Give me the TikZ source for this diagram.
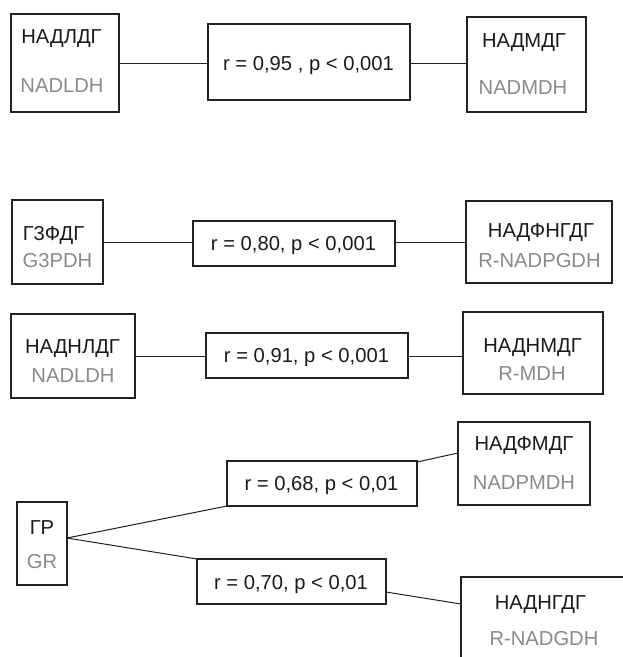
\documentclass[tikz,border=0pt]{standalone}
\usepackage{fontspec}
\setmainfont{Liberation Sans}
\usetikzlibrary{calc}
\definecolor{boxcol}{HTML}{222222}
\definecolor{ink}{HTML}{1A1A1A}
\definecolor{subgray}{HTML}{8A8A8A}
\begin{document}
\begin{tikzpicture}[x=1pt,y=-1pt,
  box/.style={rectangle, draw=boxcol, line width=1.6pt, inner sep=0pt, outer sep=0pt},
  link/.style={draw=boxcol, line width=1pt},
  lab/.style={inner sep=0pt, text height=14.5pt, text depth=0pt,
              font=\fontsize{20.2}{23}\selectfont, text=ink},
  sub/.style={lab, text=subgray}]
\useasboundingbox (0,0) rectangle (623,657);
\clip (0,0) rectangle (623,657);

% ---- row 1
\node[box, minimum width=108pt, minimum height=98pt] (A) at (65,63) {};
\node[box, minimum width=202pt, minimum height=76pt] (M1) at (309,62) {};
\node[box, minimum width=119pt, minimum height=95pt] (B) at (526.5,64.5) {};
\node[lab] (A1) at (61.5,36) {НАДЛДГ};
\node[sub] (A2) at (62,85) {NADLDH};
\node[lab] (M1t) at (308.5,63) {r = 0,95 , p < 0,001};
\node[lab] (B1) at (524,40) {НАДМДГ};
\node[sub] (B2) at (523,87) {NADMDH};
\draw[link] (A.east) -- (A.east -| M1.west);
\draw[link] (A.east -| M1.east) -- (A.east -| B.west);

% ---- row 2
\node[box, minimum width=91pt, minimum height=84pt] (C) at (57.5,242) {};
\node[box, minimum width=202pt, minimum height=45pt] (M2) at (294,243.5) {};
\node[box, minimum width=146pt, minimum height=82pt] (D) at (539,242) {};
\node[lab] (C1) at (53.5,233) {Г3ФДГ};
\node[sub] (C2) at (57.5,260) {G3PDH};
\node[lab] (M2t) at (293.5,243) {r = 0,80, p < 0,001};
\node[lab] (D1) at (541,230) {НАДФНГДГ};
\node[sub] (D2) at (539.5,260) {R-NADPGDH};
\draw[link] (C.east) -- (C.east -| M2.west);
\draw[link] (C.east -| M2.east) -- (D.west);

% ---- row 3
\node[box, minimum width=124pt, minimum height=84pt] (E) at (73,356) {};
\node[box, minimum width=202pt, minimum height=45pt] (M3) at (307,355.5) {};
\node[box, minimum width=140pt, minimum height=82pt] (F) at (533,353) {};
\node[lab] (E1) at (72.5,346) {НАДНЛДГ};
\node[sub] (E2) at (73,375) {NADLDH};
\node[lab] (M3t) at (306.5,355) {r = 0,91, p < 0,001};
\node[lab] (F1) at (532.5,345) {НАДНМДГ};
\node[sub] (F2) at (532,373) {R-MDH};
\draw[link] (E.east) -- (E.east -| M3.west);
\draw[link] (E.east -| M3.east) -- (E.east -| F.west);

% ---- row 4: branching from GR
\node[box, minimum width=50pt, minimum height=83pt] (G) at (42,543.5) {};
\node[box, minimum width=190pt, minimum height=45pt] (M4) at (322,483.5) {};
\node[box, minimum width=132pt, minimum height=83pt] (H) at (524,463.5) {};
\node[box, minimum width=189pt, minimum height=45pt] (M5) at (291.5,581.5) {};
\node[box, minimum width=166pt, minimum height=100pt] (I) at (544,627) {};
\node[lab] (G1) at (42,527) {ГР};
\node[sub] (G2) at (42,561) {GR};
\node[lab] (M4t) at (321.5,483) {r = 0,68, p < 0,01};
\node[lab] (H1) at (524,443) {НАДФМДГ};
\node[sub] (H2) at (524,482) {NADPMDH};
\node[lab] (M5t) at (291,582) {r = 0,70, p < 0,01};
\node[lab] (I1) at (540.5,602) {НАДНГДГ};
\node[sub] (I2) at (544,638) {R-NADGDH};
\coordinate (Gout) at ([yshift=5.5pt]G.east);
\draw[link] (Gout) -- (M4.south west);
\draw[link] (Gout) -- (M5.north west);
\draw[link] ([yshift=-1pt]M4.north east) -- ([yshift=10.5pt]H.west);
\draw[link] ([yshift=-10.5pt]M5.east) -- ([yshift=-27pt]I.north west);
\end{tikzpicture}
\end{document}
